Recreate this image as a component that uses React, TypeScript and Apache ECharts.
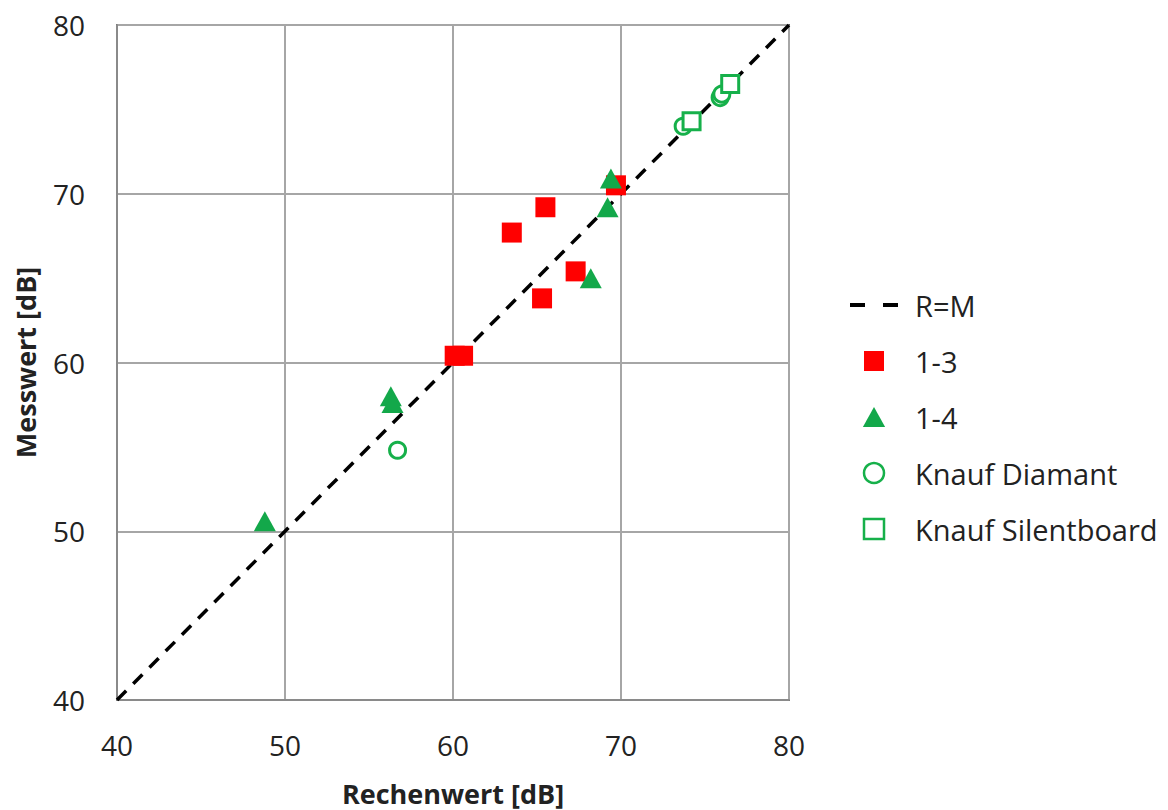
import React, { useEffect, useRef } from "react";
import * as echarts from "echarts";

const refLine: number[][] = [[40, 40], [80, 80]];
const s13: number[][] = [[63.5, 67.7], [65.5, 69.2], [65.3, 63.8], [67.3, 65.4], [69.7, 70.5], [60.1, 60.4], [60.6, 60.4]];
const s14: number[][] = [[69.4, 70.9], [69.2, 69.2], [68.2, 65.0], [56.3, 58.0], [56.4, 57.6], [48.8, 50.6]];
const diamant: number[][] = [[56.7, 54.8], [73.7, 74.0], [75.9, 75.7], [76.0, 75.9]];
const silent: number[][] = [[74.2, 74.3], [76.5, 76.5]];
const names = ["R=M", "1-3", "1-4", "Knauf Diamant", "Knauf Silentboard"];

const FONT = "'Open Sans', 'Noto Sans', sans-serif";
const SQUARE = "path://M0,0h10v10h-10z";
const TRI = "path://M5,0L10,9L0,9z";
const DASH = "path://M0,0h15v4h-15z M33,0h15v4h-15z";

export default function App() {
  const ref = useRef<HTMLDivElement>(null);
  useEffect(() => {
    document.body.style.margin = "0";
    const chart = echarts.init(ref.current!, null, { renderer: "svg" });
    const green = "#16b04a";
    chart.setOption({
      animation: false,
      backgroundColor: "#ffffff",
      textStyle: { fontFamily: FONT },
      grid: {
        left: 117, right: 379, top: 25, bottom: 110, show: true, borderColor: "#5a5a5a", borderWidth: 2,
        backgroundColor: "transparent", containLabel: false, outerBoundsMode: "none",
      },
      legend: {
        orient: "vertical",
        left: 845,
        top: 285,
        itemWidth: 48,
        itemHeight: 20,
        itemGap: 26,
        textStyle: { fontSize: 29, lineHeight: 30, color: "#222", fontFamily: FONT, padding: [0, 0, 0, 12] },
        data: [
          { name: names[0], icon: DASH, itemStyle: { color: "#000" } },
          { name: names[1], icon: SQUARE },
          { name: names[2], icon: TRI },
          { name: names[3], icon: "circle", itemStyle: { borderWidth: 2.5 } },
          { name: names[4], icon: SQUARE, itemStyle: { borderWidth: 2.5 } },
        ],
      },
      xAxis: {
        type: "value", min: 40, max: 80, interval: 10,
        name: "Rechenwert [dB]", nameLocation: "middle", nameGap: 78,
        nameTextStyle: { fontSize: 27, lineHeight: 30, fontWeight: "bold", color: "#222", fontFamily: FONT },
        axisLine: { show: true, lineStyle: { color: "#8a8a8a", width: 2 } },
        axisTick: { show: false },
        axisLabel: { fontSize: 28, color: "#222", margin: 31, fontFamily: FONT },
        splitLine: { show: true, lineStyle: { color: "#a6a6a6", width: 2 } },
      },
      yAxis: {
        type: "value", min: 40, max: 80, interval: 10,
        name: "Messwert [dB]", nameLocation: "middle", nameGap: 78,
        nameTextStyle: { fontSize: 27, fontWeight: "bold", color: "#222", fontFamily: FONT },
        axisLine: { show: true, lineStyle: { color: "#8a8a8a", width: 2 } },
        axisTick: { show: false },
        axisLabel: { fontSize: 28, color: "#222", margin: 32, fontFamily: FONT },
        splitLine: { show: true, lineStyle: { color: "#a6a6a6", width: 2 } },
      },
      series: [
        {
          name: names[0], type: "line", data: refLine, showSymbol: false, symbol: "none",
          lineStyle: { color: "#000", width: 3.5, type: [13, 10] }, itemStyle: { color: "#000" }, z: 3,
        },
        {
          name: names[1], type: "scatter", data: s13, symbol: "rect", symbolSize: 20,
          itemStyle: { color: "#ff0000", opacity: 1 }, z: 4,
        },
        {
          name: names[2], type: "scatter", data: s14, symbol: "triangle", symbolSize: [22, 20],
          itemStyle: { color: "#13a84a", opacity: 1 }, z: 5,
        },
        {
          name: names[3], type: "scatter", data: diamant, symbol: "circle", symbolSize: 16,
          itemStyle: { color: "#ffffff", borderColor: green, borderWidth: 3, opacity: 1 }, z: 5,
        },
        {
          name: names[4], type: "scatter", data: silent, symbol: "rect", symbolSize: 17,
          itemStyle: { color: "#ffffff", borderColor: green, borderWidth: 3, opacity: 1 }, z: 5,
        },
      ],
    });
    return () => chart.dispose();
  }, []);
  return <div ref={ref} style={{ width: 1168, height: 810 }} />;
}
